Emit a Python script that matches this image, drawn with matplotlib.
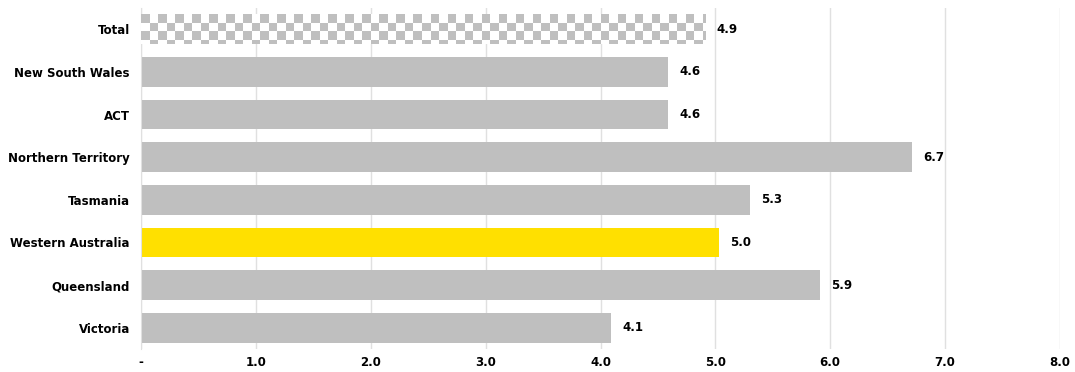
import numpy as np
import matplotlib
matplotlib.use("Agg")
import matplotlib.pyplot as plt
from matplotlib.colors import ListedColormap

# data
regions = ['Total', 'New South Wales', 'ACT', 'Northern Territory',
           'Tasmania', 'Western Australia', 'Queensland', 'Victoria']
values = [4.91, 4.59, 4.59, 6.71, 5.30, 5.03, 5.91, 4.09]
xticks = [0, 1, 2, 3, 4, 5, 6, 7, 8]
xtick_labels = ['-', '1.0', '2.0', '3.0', '4.0', '5.0', '6.0', '7.0', '8.0']

grey = '#BFBFBF'
yellow = '#FFE000'
colors = [grey] * len(regions)
colors[regions.index('Western Australia')] = yellow

plt.rcParams['font.family'] = ['DejaVu Sans']

fig = plt.figure(figsize=(10.75, 3.72), dpi=100)
ax = fig.add_axes([141 / 1075, 23 / 372, 919 / 1075, 341 / 372])

y = np.arange(len(regions))
bar_h = 0.70
bars = ax.barh(y, values, height=bar_h, color=colors, zorder=2)

# checkered fill for the Total bar
tot = bars[0]
tot.set_facecolor('white')
cell_x = 8.5 * 8 / 919        # ~8.5 px squares
cell_y = 8.5 / 42.6
nx = int(np.ceil(values[0] / cell_x)) + 1
ny = int(np.ceil(bar_h / cell_y)) + 1
checker = (np.add.outer(np.arange(ny), np.arange(nx)) + 1) % 2
y0 = -bar_h / 2
im = ax.imshow(checker, cmap=ListedColormap(['white', grey]),
               interpolation='nearest', aspect='auto', zorder=3,
               extent=(0, nx * cell_x, y0 + ny * cell_y, y0))
im.set_clip_path(tot)

for yi, v in zip(y, values):
    ax.text(v + 0.1, yi, f'{v:.1f}', va='center', ha='left',
            fontsize=8.5, fontweight='bold', color='black')

ax.set_xlim(0, 8)
ax.set_ylim(len(regions) - 0.5, -0.5)
ax.set_yticks(y)
ax.set_yticklabels(regions, fontsize=8.5, fontweight='bold')
ax.set_xticks(xticks)
ax.set_xticklabels(xtick_labels, fontsize=8.5, fontweight='bold')
ax.tick_params(axis='both', length=0)
ax.tick_params(axis='y', pad=8)
ax.tick_params(axis='x', pad=5)

ax.grid(axis='x', color='#E0E0E0', linewidth=1, zorder=0)
ax.set_axisbelow(True)
for s in ['top', 'right', 'bottom']:
    ax.spines[s].set_visible(False)
ax.spines['left'].set_color('#E0E0E0')

fig.savefig('out.png', dpi=100)
